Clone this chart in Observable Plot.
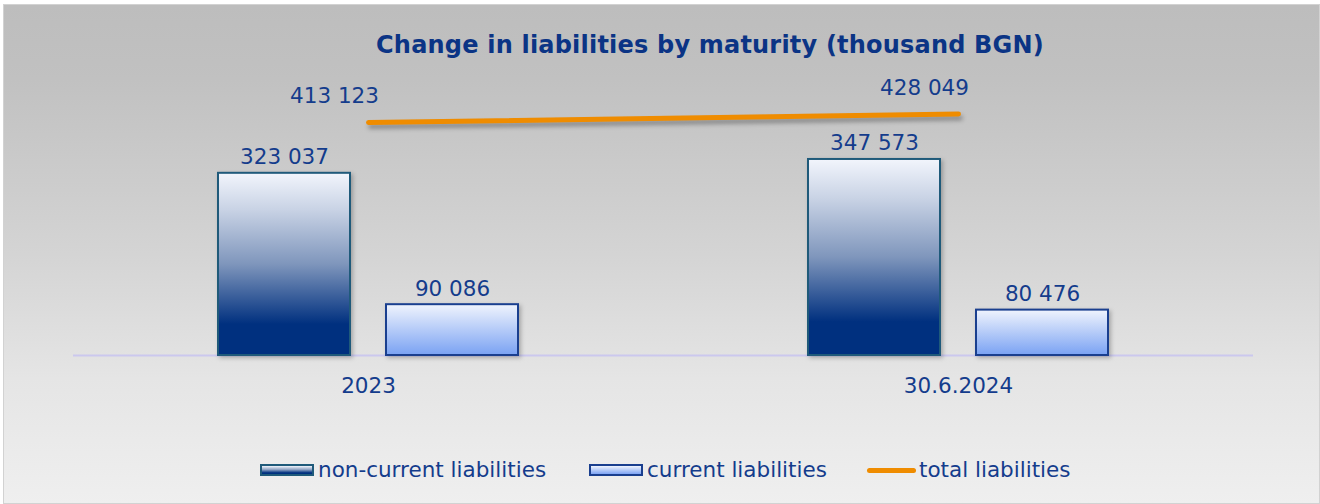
<!DOCTYPE html>
<html><head><meta charset="utf-8">
<script src="https://cdn.jsdelivr.net/npm/d3@7"></script>
<script src="https://cdn.jsdelivr.net/npm/@observablehq/plot@0.6"></script>
<style>
body{margin:0;background:#fff;font-family:"DejaVu Sans",Verdana,sans-serif;width:1320px;height:504px;overflow:hidden;position:relative}
#frame{position:absolute;left:3px;top:4px;width:1315px;height:498px;border:1px solid #d2d2d2;
  background:linear-gradient(to bottom,#bdbdbd 0%,#c1c1c1 15%,#d4d4d4 50%,#e5e5e5 75%,#efefef 100%)}
#title{position:absolute;left:0;top:31px;width:1420px;text-align:center;font-weight:bold;font-size:24px;line-height:28px;color:#0b3485;letter-spacing:0.2px}
.layer{position:absolute;left:0;top:0}
.layer svg{background:none;overflow:visible}
.bars rect{filter:drop-shadow(2px 2px 2px rgba(0,0,0,0.25))}
.tline path{filter:drop-shadow(2px 4px 2px rgba(0,0,0,0.3))}
#legend .item{position:absolute;top:456px;display:flex;align-items:center;font-size:21.5px;color:#143c8c;line-height:28px;height:28px}
#legend .sw{width:54px;height:12px;margin-right:4px;box-sizing:border-box}
#legend .nc{border:2px solid #1f5a7a;background:linear-gradient(to bottom,#f0f4fb 0%,#8ea3c4 45%,#00307f 85%,#00307f 100%)}
#legend .c{border:2px solid #1a3f8f;background:linear-gradient(to bottom,#eef3fd 0%,#7ea4f4 100%)}
#legend .ln{width:49px;height:5px;border-radius:3px;background:#ef8c00;margin-right:3px}
</style></head>
<body>
<svg width="0" height="0" style="position:absolute">
  <defs>
    <linearGradient id="gNC" x1="0" y1="0" x2="0" y2="1">
      <stop offset="0" stop-color="#f2f5fc"/>
      <stop offset="0.2" stop-color="#c9d3e5"/>
      <stop offset="0.5" stop-color="#7f96bc"/>
      <stop offset="0.83" stop-color="#00307f"/>
      <stop offset="1" stop-color="#00307f"/>
    </linearGradient>
    <linearGradient id="gC" x1="0" y1="0" x2="0" y2="1">
      <stop offset="0" stop-color="#f0f4fd"/>
      <stop offset="1" stop-color="#7aa2f3"/>
    </linearGradient>
  </defs>
</svg>
<div id="frame"></div>
<div id="title">Change in liabilities by maturity (thousand BGN)</div>
<div id="bars" class="layer"></div>
<div id="line" class="layer"></div>
<div id="legend"></div>
<script>
const categories = ["2023", "30.6.2024"];
const series = ["non-current liabilities", "current liabilities"];
const totalLabel = "total liabilities";
const nonCurrent = [323037, 347573];
const current = [90086, 80476];
const total = [413123, 428049];

const fmt = v => d3.format(",")(v).replace(/,/g, " ");
const barData = [];
categories.forEach((c, i) => {
  barData.push({cat: c, series: series[0], value: nonCurrent[i]});
  barData.push({cat: c, series: series[1], value: current[i]});
});
const totalData = categories.map((c, i) => ({cat: c, value: total[i]}));

const W = 1320, H = 400, ML = 73, MR = 67, MT = 73, MB = 45;
const yDomain = [0, 500000];
const txt = "#143c8c";
const FS = 21.5;

const bars = Plot.plot({
  width: W, height: H, marginLeft: ML, marginRight: MR, marginTop: MT, marginBottom: MB,
  style: {fontFamily: "DejaVu Sans, Verdana, sans-serif", background: "none"},
  fx: {domain: categories, padding: 0, label: null},
  x: {domain: series, paddingInner: 0.2143, paddingOuter: 0.863, axis: null},
  y: {domain: yDomain, axis: null},
  marks: [
    Plot.ruleY([0], {stroke: "#cbc8ee", strokeWidth: 2}),
    Plot.barY(barData.filter(d => d.series === series[0]), {fx: "cat", x: "series", y: "value", fill: "url(#gNC)", stroke: "#1f5a7a", strokeWidth: 2, className: "bars"}),
    Plot.barY(barData.filter(d => d.series === series[1]), {fx: "cat", x: "series", y: "value", fill: "url(#gC)", stroke: "#1a3f8f", strokeWidth: 2, className: "bars"}),
    Plot.text(barData, {fx: "cat", x: "series", y: "value", text: d => fmt(d.value), lineAnchor: "bottom", dy: -9, fontSize: FS, fill: txt}),
    Plot.axisFx({anchor: "bottom", tickSize: 0, tickPadding: 22, fontSize: FS, fill: txt, label: null})
  ]
});
document.getElementById("bars").append(bars);

const line = Plot.plot({
  width: W, height: H, marginLeft: ML, marginRight: MR, marginTop: MT, marginBottom: MB,
  style: {fontFamily: "DejaVu Sans, Verdana, sans-serif", background: "none"},
  x: {type: "point", domain: categories, padding: 0.5, axis: null},
  y: {domain: yDomain, axis: null},
  marks: [
    Plot.line(totalData, {x: "cat", y: "value", stroke: "#ef8c00", strokeWidth: 5, strokeLinecap: "round", className: "tline"}),
    Plot.text(totalData, {x: "cat", y: "value", text: d => fmt(d.value), dx: -34, dy: -26, fontSize: FS, fill: txt})
  ]
});
document.getElementById("line").append(line);

const legendItems = [
  {label: series[0], cls: "sw nc", left: 260},
  {label: series[1], cls: "sw c", left: 589},
  {label: totalLabel, cls: "ln", left: 867}
];
const lg = document.getElementById("legend");
legendItems.forEach(it => {
  const d = document.createElement("div");
  d.className = "item";
  d.style.left = it.left + "px";
  const s = document.createElement("span");
  s.className = it.cls;
  d.append(s, document.createTextNode(it.label));
  lg.append(d);
});
</script>
</body></html>
